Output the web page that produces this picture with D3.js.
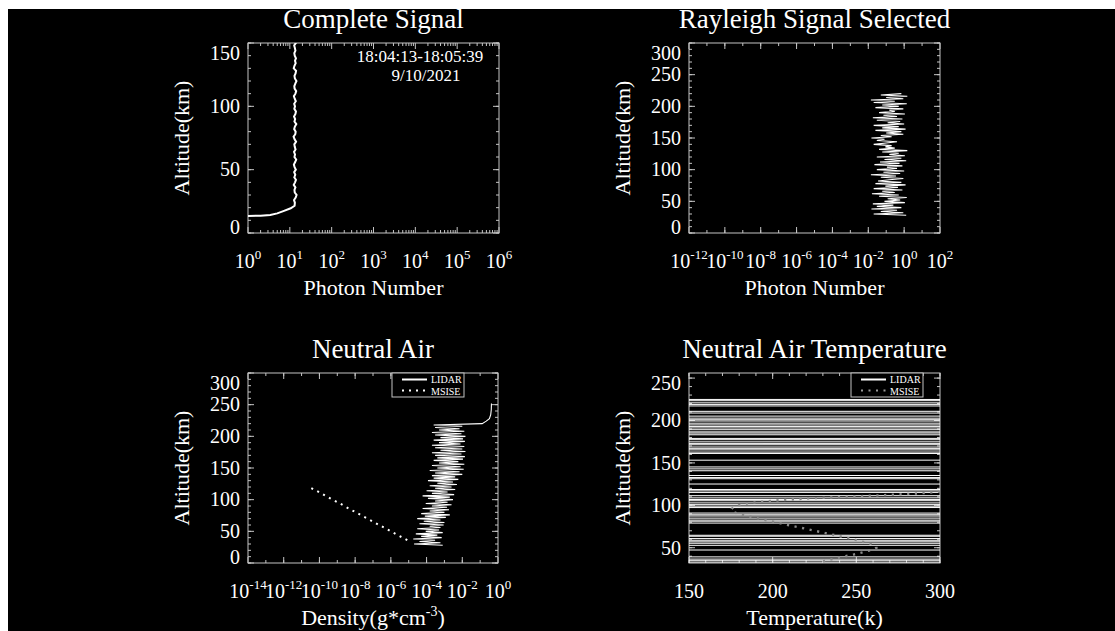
<!DOCTYPE html>
<html>
<head>
<meta charset="utf-8">
<script src="https://d3js.org/d3.v7.min.js"></script>
<style>
  body { margin: 0; background: #fff; }
  text { font-family: "Liberation Serif", "Times New Roman", serif; fill: #fff; }
</style>
</head>
<body>
<svg id="chart" width="1115" height="631"></svg>
<script>

// ---- Complete Signal: photon number vs altitude
var signalAlt = [13.5,13.7,14.3,15.5,17.3,19.5,21.5,24,26,28,30,32,34,36,38,40,42,44,46,48,50,52,54,56,58,60,62,64,66,68,70,72,74,76,78,80,82,84,86,88,90,92,94,96,98,100,102,104,106,108,110,112,114,116,118,120,122,124,126,128,130,132,134,136,138,140,142,144,146,148,150,152,154,156,158];
var signalCount = [1.0,2.0,3.4,5.0,7.0,10.5,13.0,
  13.2,12.6,13.8,14.5,13.1,12.9,13.6,12.4,13.3,14.0,12.8,13.5,12.7,13.9,13.0,12.5,13.4,14.2,12.9,13.3,
  12.6,13.7,13.1,12.8,14.1,13.0,12.3,13.5,13.8,12.7,13.2,14.3,12.9,13.4,12.6,13.6,14.0,12.8,13.3,12.7,
  13.9,13.1,12.5,13.6,14.2,13.0,12.8,13.5,14.4,13.2,12.9,13.7,14.1,12.4,12.9,13.8,13.3,14.0,13.1,12.8,
  13.6,13.2,12.7,13.9,13.4,12.6,13.5,13.1];

// ---- Rayleigh selected / neutral density (lidar bins)
var lidarAlt = [28,30,32,34,36,38,40,42,44,46,48,50,52,54,56,58,60,62,64,66,68,70,72,74,76,78,80,82,84,86,88,90,92,94,96,98,100,102,104,106,108,110,112,114,116,118,120,122,124,126,128,130,132,134,136,138,140,142,144,146,148,150,152,154,156,158,160,162,164,166,168,170,172,174,176,178,180,182,184,186,188,190,192,194,196,198,200,202,204,206,208,210,212,214,216,218,220];
var rayleighCount = [1.3,0.02,0.9,0.05,0.4,0.015,0.7,0.03,0.25,0.018,1.1,0.08,0.6,0.12,1.4,0.04,0.5,0.016,0.3,0.06,
  0.8,0.02,0.45,0.09,1.2,0.025,0.7,0.035,0.15,0.9,0.05,0.35,0.014,0.6,0.07,1.0,0.03,0.4,0.11,0.8,
  0.022,0.55,0.045,1.3,0.08,0.7,0.03,1.1,0.15,0.5,0.06,1.5,0.04,0.3,0.09,0.2,0.02,0.1,0.4,0.03,
  0.08,0.015,0.2,0.05,0.9,0.1,0.7,0.025,1.2,0.06,0.5,0.02,1.0,0.12,0.6,0.03,0.8,0.018,0.4,0.07,
  1.1,0.04,0.3,0.15,0.9,0.025,0.5,0.06,1.4,0.02,0.3,0.014,0.9,0.1,1.5,0.05,0.7];
var densityLidar = [8e-4,2e-5,6e-4,4e-5,3e-4,1.8e-5,7e-4,5e-5,4e-4,2.5e-5,8e-4,9e-5,5e-4,3e-5,6e-4,1.5e-4,9e-4,4e-5,1e-3,7e-5,
  6e-4,3e-5,1.2e-3,8e-5,2e-3,5e-5,1e-3,1.5e-4,1.8e-3,6e-5,1.4e-3,2e-4,2.5e-3,9e-5,1.5e-3,3e-4,3e-3,1.2e-4,2e-3,6e-5,
  3.5e-3,2e-4,1.5e-3,1e-4,4e-3,3e-4,2.5e-3,1.5e-4,5e-3,4e-4,3e-3,1.2e-4,6e-3,2.5e-4,4e-3,2e-4,1e-2,3e-4,7e-3,1.5e-4,
  1.2e-2,4e-4,8e-3,2e-4,1.3e-2,5e-4,6e-3,2.5e-4,1.1e-2,4e-4,1.4e-2,3e-4,9e-3,2e-4,1.5e-2,6e-4,1e-2,3e-4,1.3e-2,2e-4,
  8e-3,5e-4,1.4e-2,2.5e-4,1.1e-2,6e-4,1.5e-2,3e-4,9e-3,2e-4,1.3e-2,5e-4,7e-3,3e-4,1e-2,2.5e-4];
var densityTopAlt = [220,224,228,234,242,252];
var densityTopVal = [0.13,0.22,0.33,0.39,0.42,0.43];
var msiseDensAlt = [36,40,45,50,55,60,65,70,75,80,85,90,95,100,105,110,115,120,122];
var msiseDensVal = [8.3e-6,4.6e-6,2.1e-6,1.0e-6,4.8e-7,2.2e-7,1.05e-7,5.0e-8,2.3e-8,1.1e-8,5.1e-9,2.5e-9,1.2e-9,5.5e-10,2.5e-10,1.26e-10,5.8e-11,2.7e-11,2.1e-11];

// ---- Neutral air temperature
var tempAlt = [32,34,36,38,40,42,44,46,48,50,52,54,56,58,60,62,64,66,68,70,72,74,76,78,80,82,84,86,88,90,92,94,96,98,100,102,104,106,108,110,112,114,116,118,120,122,124,126,128,130,132,134,136,138,140,142,144,146,148,150,152,154,156,158,160,162,164,166,168,170,172,174,176,178,180,182,184,186,188,190,192,194,196,198,200,202,204,206,208,210,212,214,216,218,220,222,224,226];
var tempLidar = [4200,-3100,2600,-5400,3800,6100,2900,4700,-2200,-6800,-3500,5100,-2700,3300,-4600,7200,-1900,4100,2500,6600,
  3900,5300,2800,4400,-3600,2300,-5200,6900,-2600,3700,-4300,-2100,-5900,3100,-2800,4800,-6100,2700,-3300,5600,
  -2400,-4900,3500,-2900,6200,3400,5000,-3800,-2200,-5500,2900,-4400,3600,7100,2600,-3900,4500,-2500,-6400,-3200,
  -4700,3300,5800,2400,4300,-3000,5400,-2300,3800,-6000,2800,-4100,6500,-2700,3900,5200,-3400,2500,-5700,4600,
  -2800,3200,-4500,6800,-2600,3500,-5100,4000,2700,-3700,5900,3100,4400,-2900,3600,-4800,2600,-3300];
var msiseTempAlt = [34,36,38,40,42,44,46,48,50,52,54,56,58,60,62,64,66,68,70,72,74,76,78,80,82,84,86,88,90,92,94,96,98,100,102,104,106,108,110,112,114,116];
var msiseTemp = [230,234.5,239,243.5,248.5,252.5,256.5,260,262,261.5,259.5,256,252,248,243.5,239,234.5,230,225,220.5,
  216,211,206.5,202,197.5,192.5,188,183.5,179.5,176.5,175.2,175.5,177,179.5,184,192,204,220,244,266,287,300];

// tick labels
var signalAltTicks = [0, 50, 100, 150];
var altTicks = [0, 50, 100, 150, 200, 250, 300];
var tempAltTicks = [50, 100, 150, 200, 250];
var signalExp = [0, 1, 2, 3, 4, 5, 6];
var rayleighExp = [-12, -10, -8, -6, -4, -2, 0, 2];
var densityExp = [-14, -12, -10, -8, -6, -4, -2, 0];
var tempTicks = [150, 200, 250, 300];

var axisColor = "#c4c4c4";
var svg = d3.select("#chart");

// black plotting window (thin white margin top/left like the screenshot)
svg.append("rect").attr("x", 8).attr("y", 9).attr("width", 1107).attr("height", 622).attr("fill", "#000");

var clipN = 0;
function frame(x, y, xMinor, yMinor, xMajor, yMajor) {
  var L = x.range()[0], R = x.range()[1], B = y.range()[0], T = y.range()[1];
  var g = svg.append("g");
  g.append("rect").attr("x", L).attr("y", T).attr("width", R - L).attr("height", B - T)
    .attr("fill", "none").attr("stroke", axisColor).attr("stroke-width", 1);
  var xt = xMajor.map(function (v) { return [v, 6]; }).concat(xMinor.map(function (v) { return [v, 3]; }));
  var yt = yMajor.map(function (v) { return [v, 6]; }).concat(yMinor.map(function (v) { return [v, 3]; }));
  xt.forEach(function (t) {
    var px = x(t[0]);
    if (px < L - 0.5 || px > R + 0.5) return;
    g.append("line").attr("x1", px).attr("x2", px).attr("y1", B).attr("y2", B - t[1]).attr("stroke", axisColor);
    g.append("line").attr("x1", px).attr("x2", px).attr("y1", T).attr("y2", T + t[1]).attr("stroke", axisColor);
  });
  yt.forEach(function (t) {
    var py = y(t[0]);
    if (py < T - 0.5 || py > B + 0.5) return;
    g.append("line").attr("y1", py).attr("y2", py).attr("x1", L).attr("x2", L + t[1]).attr("stroke", axisColor);
    g.append("line").attr("y1", py).attr("y2", py).attr("x1", R).attr("x2", R - t[1]).attr("stroke", axisColor);
  });

  // y labels, pulled inward at the ends like IDL does
  yMajor.forEach(function (v) {
    var py = Math.max(T + 10, Math.min(B - 5.5, y(v)));
    svg.append("text").attr("x", L - 8).attr("y", py).attr("dy", "0.34em")
      .attr("text-anchor", "end").attr("font-size", 20).text(v);
  });

  var id = "clip" + (clipN++);
  svg.append("clipPath").attr("id", id).append("rect")
    .attr("x", L).attr("y", T).attr("width", R - L).attr("height", B - T);
  return svg.append("g").attr("clip-path", "url(#" + id + ")");
}

function powLabels(x, exps) {
  exps.forEach(function (e) {
    var t = svg.append("text").attr("x", x(Math.pow(10, e))).attr("y", x.labelY)
      .attr("text-anchor", "middle").attr("font-size", 20);
    t.append("tspan").text("10");
    t.append("tspan").attr("dy", -9).attr("font-size", 13).text(e);
  });
}

function titles(x, y, title, xTitle) {
  var L = x.range()[0], R = x.range()[1], B = y.range()[0], T = y.range()[1];
  var cx = (L + R) / 2;
  svg.append("text").attr("x", cx).attr("y", T - 15).attr("text-anchor", "middle")
    .attr("font-size", 27).text(title);
  var xt = svg.append("text").attr("x", cx).attr("y", B + 62).attr("text-anchor", "middle").attr("font-size", 22);
  xTitle(xt);
  svg.append("text").attr("transform", "translate(" + (L - 59.5) + "," + ((T + B) / 2) + ") rotate(-90)")
    .attr("text-anchor", "middle").attr("font-size", 22).text("Altitude(km)");
}

function legend(x0, y0, dotColor, dash) {
  var g = svg.append("g");
  g.append("rect").attr("x", x0).attr("y", y0).attr("width", 72).attr("height", 24)
    .attr("fill", "#000").attr("stroke", axisColor);
  g.append("line").attr("x1", x0 + 10).attr("x2", x0 + 35).attr("y1", y0 + 6.5).attr("y2", y0 + 6.5)
    .attr("stroke", "#fff").attr("stroke-width", 2);
  g.append("line").attr("x1", x0 + 10).attr("x2", x0 + 35).attr("y1", y0 + 17.5).attr("y2", y0 + 17.5)
    .attr("stroke", dotColor).attr("stroke-width", 2).attr("stroke-dasharray", dash);
  g.append("text").attr("x", x0 + 39).attr("y", y0 + 10).attr("font-size", 10).text("LIDAR");
  g.append("text").attr("x", x0 + 39).attr("y", y0 + 21.5).attr("font-size", 10).text("MSISE");
}

function logMinor(lo, hi, every) {
  var out = [];
  for (var e = lo; e <= hi; e++) {
    if (every) { for (var k = 2; k < 10; k++) out.push(k * Math.pow(10, e)); }
    else out.push(Math.pow(10, e));
  }
  return out;
}
function linMinor(lo, hi, step) { return d3.range(lo, hi + 0.001, step); }

var line = function (x, y) {
  return d3.line().x(function (d) { return x(d[0]); }).y(function (d) { return y(d[1]); });
};

// ---------- Panel 1: Complete Signal
var x1 = d3.scaleLog().domain([1, 1e6]).range([248, 499]);
var y1 = d3.scaleLinear().domain([0, 150]).range([233, 43]);
x1.labelY = 268;
var p1 = frame(x1, y1, logMinor(0, 5, true), linMinor(0, 150, 10),
  signalExp.map(function (e) { return Math.pow(10, e); }), signalAltTicks);
powLabels(x1, signalExp);
titles(x1, y1, "Complete Signal", function (t) { t.text("Photon Number"); });
p1.append("path").datum(d3.zip(signalCount, signalAlt)).attr("d", line(x1, y1))
  .attr("fill", "none").attr("stroke", "#fff").attr("stroke-width", 2);
svg.append("text").attr("x", 420).attr("y", 62).attr("text-anchor", "middle").attr("font-size", 17).text("18:04:13-18:05:39");
svg.append("text").attr("x", 426).attr("y", 81).attr("text-anchor", "middle").attr("font-size", 17).text("9/10/2021");

// ---------- Panel 2: Rayleigh Signal Selected
var x2 = d3.scaleLog().domain([1e-12, 1e2]).range([689, 940]);
var y2 = d3.scaleLinear().domain([0, 300]).range([233, 43]);
x2.labelY = 268;
var p2 = frame(x2, y2, logMinor(-11, 1, false), linMinor(0, 300, 10),
  rayleighExp.map(function (e) { return Math.pow(10, e); }), altTicks);
powLabels(x2, rayleighExp);
titles(x2, y2, "Rayleigh Signal Selected", function (t) { t.text("Photon Number"); });
p2.append("path").datum(d3.zip(rayleighCount, lidarAlt)).attr("d", line(x2, y2))
  .attr("fill", "none").attr("stroke", "#fff").attr("stroke-width", 1.1);

// ---------- Panel 3: Neutral Air density
var x3 = d3.scaleLog().domain([1e-14, 1]).range([248, 498]);
var y3 = d3.scaleLinear().domain([0, 300]).range([563, 373]);
x3.labelY = 598;
var p3 = frame(x3, y3, logMinor(-13, -1, false), linMinor(0, 300, 10),
  densityExp.map(function (e) { return Math.pow(10, e); }), altTicks);
powLabels(x3, densityExp);
titles(x3, y3, "Neutral Air", function (t) {
  t.append("tspan").text("Density(g*cm");
  t.append("tspan").attr("dy", -9).attr("font-size", 14).text("-3");
  t.append("tspan").attr("dy", 9).text(")");
});
var densPts = d3.zip(densityLidar, lidarAlt).concat(d3.zip(densityTopVal, densityTopAlt));
p3.append("path").datum(densPts).attr("d", line(x3, y3))
  .attr("fill", "none").attr("stroke", "#fff").attr("stroke-width", 1.1);
p3.append("path").datum(d3.zip(msiseDensVal, msiseDensAlt)).attr("d", line(x3, y3))
  .attr("fill", "none").attr("stroke", "#fff").attr("stroke-width", 2).attr("stroke-dasharray", "2,4.7");
legend(392, 373, "#fff", "2,5");

// ---------- Panel 4: Neutral Air Temperature
var x4 = d3.scaleLinear().domain([150, 300]).range([689, 940]);
var y4 = d3.scaleLinear().domain([32, 256]).range([563, 373]);
var p4 = frame(x4, y4, linMinor(150, 300, 10), linMinor(40, 250, 10), tempTicks, tempAltTicks);
tempTicks.forEach(function (v) {
  svg.append("text").attr("x", x4(v)).attr("y", 598).attr("text-anchor", "middle").attr("font-size", 20).text(v);
});
titles(x4, y4, "Neutral Air Temperature", function (t) { t.text("Temperature(k)"); });
p4.append("path").datum(d3.zip(tempLidar, tempAlt)).attr("d", line(x4, y4))
  .attr("fill", "none").attr("stroke", "#fff").attr("stroke-width", 1);
p4.append("path").datum(d3.zip(msiseTemp, msiseTempAlt)).attr("d", line(x4, y4))
  .attr("fill", "none").attr("stroke", "#8a8a8a").attr("stroke-width", 2.4).attr("stroke-dasharray", "2.2,5.5");
legend(851, 373, "#9a9a9a", "2,5.5");

</script>
</body>
</html>
